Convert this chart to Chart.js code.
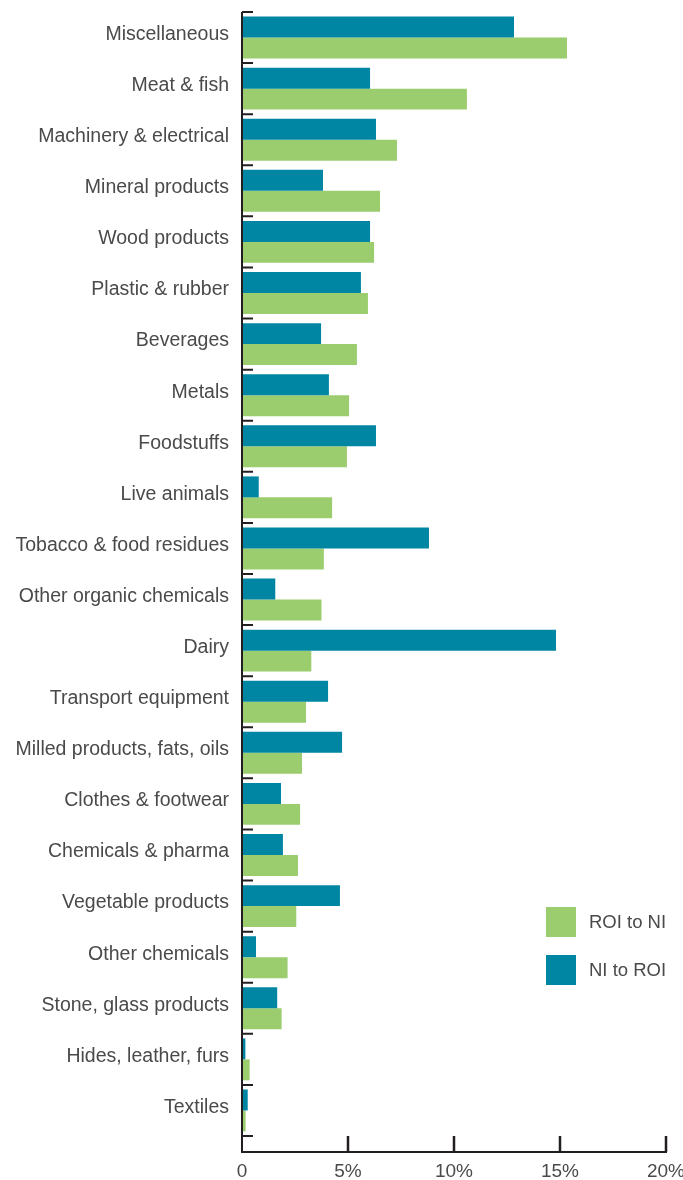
<!DOCTYPE html>
<html>
<head>
<meta charset="utf-8">
<script src="https://cdn.jsdelivr.net/npm/chart.js@4/dist/chart.umd.min.js"></script>
<style>
  html, body { margin: 0; padding: 0; background: #fff; }
  #wrap { position: relative; width: 683px; height: 1180px; }
  .legend-item { position: absolute; left: 546px; height: 30px; display: flex; align-items: center;
    font-family: "Liberation Sans", Arial, sans-serif; font-size: 18.5px; color: #4a4a4a; }
  .legend-item span.box { width: 30px; height: 30px; margin-right: 13px; }
</style>
</head>
<body>
<div id="wrap">
  <canvas id="tradeChart"></canvas>
  <div id="legend"></div>
</div>
<script>
const CATEGORIES = [
  "Miscellaneous", "Meat & fish", "Machinery & electrical", "Mineral products",
  "Wood products", "Plastic & rubber", "Beverages", "Metals", "Foodstuffs",
  "Live animals", "Tobacco & food residues", "Other organic chemicals", "Dairy",
  "Transport equipment", "Milled products, fats, oils", "Clothes & footwear",
  "Chemicals & pharma", "Vegetable products", "Other chemicals",
  "Stone, glass products", "Hides, leather, furs", "Textiles"
];

// % share
const NI_TO_ROI = [12.83, 6.04, 6.32, 3.82, 6.04, 5.61, 3.73, 4.10, 6.32, 0.79, 8.82,
  1.57, 14.81, 4.06, 4.72, 1.84, 1.93, 4.62, 0.66, 1.66, 0.16, 0.27];
const ROI_TO_NI = [15.33, 10.61, 7.31, 6.51, 6.23, 5.94, 5.42, 5.05, 4.95, 4.25, 3.86,
  3.75, 3.27, 3.02, 2.83, 2.74, 2.64, 2.56, 2.15, 1.87, 0.36, 0.17];

const X_TICKS = [0, 5, 10, 15, 20];

const TEAL = "#0086a3";
const GREEN = "#9bcd6f";
const AXIS = "#231f20";
const TEXT = "#4a4a4a";

// axis lines and inward ticks like the original
const axisPlugin = {
  id: "axisLines",
  afterDatasetsDraw(chart) {
    const { ctx, chartArea: a, scales } = chart;
    const axisY = a.bottom + 16;
    ctx.save();
    ctx.strokeStyle = AXIS;
    ctx.lineWidth = 2;
    ctx.beginPath();
    ctx.moveTo(a.left, a.top);
    ctx.lineTo(a.left, axisY + 1);
    ctx.moveTo(a.left - 1, axisY);
    ctx.lineTo(a.right + 1, axisY);
    ctx.stroke();

    // category boundary ticks
    const step = (a.bottom - a.top) / CATEGORIES.length;
    ctx.beginPath();
    for (let i = 0; i <= CATEGORIES.length; i++) {
      const y = a.top + i * step;
      ctx.moveTo(a.left, y);
      ctx.lineTo(a.left + 11, y);
    }
    ctx.stroke();

    // x ticks pointing up
    ctx.lineWidth = 2.5;
    ctx.beginPath();
    X_TICKS.slice(1).forEach((v) => {
      const x = scales.x.getPixelForValue(v);
      ctx.moveTo(x, axisY);
      ctx.lineTo(x, axisY - 16);
    });
    ctx.stroke();
    ctx.restore();
  },
};

function renderChart() {
  const ctx = document.getElementById("tradeChart").getContext("2d");

  new Chart(ctx, {
    type: "bar",
    data: {
      labels: CATEGORIES,
      datasets: [
        { label: "NI to ROI", data: NI_TO_ROI, backgroundColor: TEAL },
        { label: "ROI to NI", data: ROI_TO_NI, backgroundColor: GREEN },
      ],
    },
    options: {
      indexAxis: "y",
      responsive: true,
      maintainAspectRatio: false,
      animation: false,
      categoryPercentage: 0.82,
      barPercentage: 1,
      layout: { padding: { top: 12, right: 17, left: 0, bottom: 0 } },
      plugins: { legend: { display: false }, tooltip: { enabled: false } },
      scales: {
        x: {
          min: 0,
          max: 20,
          afterBuildTicks: (scale) => {
            scale.ticks = X_TICKS.map((v) => ({ value: v }));
          },
          afterFit: (scale) => {
            scale.height = 44;
            scale.paddingRight = 0;
            scale.paddingLeft = 0;
          },
          grid: { display: false, drawTicks: false },
          border: { display: false },
          ticks: {
            padding: 24,
            color: TEXT,
            font: { family: "'Liberation Sans', Arial, sans-serif", size: 19 },
            callback: (v) => (v === 0 ? "0" : v + "%"),
          },
        },
        y: {
          afterFit: (scale) => {
            scale.width = 242;
            scale.paddingTop = 0;
            scale.paddingBottom = 0;
          },
          grid: { display: false, drawTicks: false },
          border: { display: false },
          ticks: {
            padding: 13,
            labelOffset: -3,
            color: TEXT,
            autoSkip: false,
            font: { family: "'Liberation Sans', Arial, sans-serif", size: 19.5 },
          },
        },
      },
    },
    plugins: [axisPlugin],
  });
}

function renderLegend() {
  const container = document.getElementById("legend");
  const items = [
    { label: "ROI to NI", color: GREEN, top: 907 },
    { label: "NI to ROI", color: TEAL, top: 955 },
  ];
  items.forEach((it) => {
    container.innerHTML += `
      <div class="legend-item" style="top:${it.top}px">
        <span class="box" style="background:${it.color}"></span>${it.label}
      </div>`;
  });
}

renderChart();
renderLegend();
</script>
</body>
</html>
